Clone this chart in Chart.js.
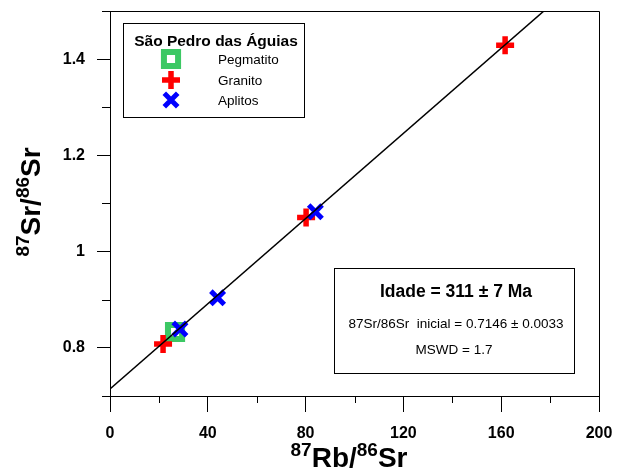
<!DOCTYPE html>
<html>
<head>
<meta charset="utf-8">
<script src="https://cdn.jsdelivr.net/npm/chart.js@4.4.0/dist/chart.umd.min.js"></script>
<style>
  html, body { margin: 0; padding: 0; background: #fff; }
  #wrap { width: 617px; height: 468px; }
</style>
</head>
<body>
<div id="wrap"><canvas id="isochron" width="617" height="468"></canvas></div>
<script>
// ============================================
// DATA
// ============================================
const pegmatitoX = [26.6];
const pegmatitoY = [0.833];

const granitoX = [21.7, 80.2, 161.6];
const granitoY = [0.808, 1.071, 1.429];

const aplitosX = [28.6, 44.0, 84.0];
const aplitosY = [0.839, 0.904, 1.083];

// isochron line end points
const isoX = [0, 200];
const isoY = [0.7146, 1.5998];

// labelled ticks
const xTickLabels = [0, 40, 80, 120, 160, 200];
const yTickLabels = [0.8, 1, 1.2, 1.4];

const legendTitle = 'São Pedro das Águias';
const infoLines = ['Idade = 311 ± 7 Ma', '87Sr/86Sr  inicial = 0.7146 ± 0.0033', 'MSWD = 1.7'];

const FONT = "'Liberation Sans', Arial, Helvetica, sans-serif";
const colors = {
    green: '#3CC864',
    red: '#FF0000',
    blue: '#0000FF',
    black: '#000000',
};

function toPoints(xs, ys) {
    return xs.map((x, i) => ({ x: x, y: ys[i] }));
}

function isLabelled(list, v) {
    return list.some((t) => Math.abs(t - v) < 1e-6);
}

// series (legend order)
const series = [
    { label: 'Pegmatito', xs: pegmatitoX, ys: pegmatitoY, style: 'rect', radius: 10, border: 6, color: colors.green, fill: '#FFFFFF', order: 3 },
    { label: 'Granito', xs: granitoX, ys: granitoY, style: 'cross', radius: 9, border: 5.5, color: colors.red, fill: colors.red, order: 2 },
    { label: 'Aplitos', xs: aplitosX, ys: aplitosY, style: 'crossRot', radius: 9.5, border: 5, color: colors.blue, fill: colors.blue, order: 1 },
];

// ============================================
// HELPERS
// ============================================
function drawMarker(ctx, s, x, y) {
    ctx.save();
    ctx.strokeStyle = s.color;
    ctx.fillStyle = s.fill;
    ctx.lineWidth = s.border;
    if (window.Chart && Chart.helpers && Chart.helpers.drawPoint) {
        Chart.helpers.drawPoint(ctx, { pointStyle: s.style, radius: s.radius, borderWidth: s.border, rotation: 0 }, x, y);
    }
    ctx.restore();
}

// text with superscript parts, centred on cx
function drawRich(ctx, parts, cx, baseline, mainFont, supFont, raise) {
    let w = 0;
    parts.forEach((p) => {
        ctx.font = p.sup ? supFont : mainFont;
        w += ctx.measureText(p.t).width;
    });
    let x = cx - w / 2;
    ctx.textAlign = 'left';
    ctx.textBaseline = 'alphabetic';
    parts.forEach((p) => {
        ctx.font = p.sup ? supFont : mainFont;
        ctx.fillText(p.t, x, baseline - (p.sup ? raise : 0));
        x += ctx.measureText(p.t).width;
    });
}

// ============================================
// PLUGIN: frame, minor ticks, axis titles, boxes
// ============================================
const extrasPlugin = {
    id: 'extras',
    afterDraw(chart) {
        const { ctx, chartArea: a, scales } = chart;
        ctx.save();
        ctx.strokeStyle = colors.black;
        ctx.lineWidth = 1;

        // top and right frame
        ctx.beginPath();
        ctx.moveTo(a.left, Math.round(a.top) + 0.5);
        ctx.lineTo(Math.round(a.right) + 0.5, Math.round(a.top) + 0.5);
        ctx.lineTo(Math.round(a.right) + 0.5, a.bottom);
        ctx.stroke();

        // minor ticks
        ctx.beginPath();
        scales.x.ticks.forEach((t) => {
            if (isLabelled(xTickLabels, t.value)) return;
            const px = Math.round(scales.x.getPixelForValue(t.value)) + 0.5;
            ctx.moveTo(px, a.bottom);
            ctx.lineTo(px, a.bottom + 7);
        });
        scales.y.ticks.forEach((t) => {
            if (isLabelled(yTickLabels, t.value)) return;
            const py = Math.round(scales.y.getPixelForValue(t.value)) + 0.5;
            ctx.moveTo(a.left - 8, py);
            ctx.lineTo(a.left, py);
        });
        ctx.stroke();

        ctx.fillStyle = colors.black;

        // x title
        drawRich(ctx, [
            { t: '87', sup: true }, { t: 'Rb/', sup: false },
            { t: '86', sup: true }, { t: 'Sr', sup: false },
        ], 349, 467, 'bold 28px ' + FONT, 'bold 19px ' + FONT, 11);

        // y title
        ctx.save();
        ctx.translate(40, 202);
        ctx.rotate(-Math.PI / 2);
        drawRich(ctx, [
            { t: '87', sup: true }, { t: 'Sr/', sup: false },
            { t: '86', sup: true }, { t: 'Sr', sup: false },
        ], 0, 0, 'bold 28px ' + FONT, 'bold 19px ' + FONT, 11);
        ctx.restore();

        // legend box
        ctx.strokeRect(123.5, 23.5, 181, 94);
        ctx.font = 'bold 15.5px ' + FONT;
        ctx.textAlign = 'center';
        ctx.textBaseline = 'alphabetic';
        ctx.fillText(legendTitle, 216, 45.5);
        const rowY = [59, 80, 100];
        const rowBase = [64, 85, 104.5];
        series.forEach((s, i) => {
            drawMarker(ctx, s, 171, rowY[i]);
            ctx.fillStyle = colors.black;
            ctx.font = '13.5px ' + FONT;
            ctx.textAlign = 'left';
            ctx.fillText(s.label, 218, rowBase[i]);
        });

        // info box
        ctx.strokeStyle = colors.black;
        ctx.lineWidth = 1;
        ctx.strokeRect(334.5, 268.5, 240, 105);
        ctx.textAlign = 'center';
        ctx.font = 'bold 17.5px ' + FONT;
        ctx.fillText(infoLines[0], 456, 297);
        ctx.font = '13.5px ' + FONT;
        ctx.fillText(infoLines[1], 456, 328);
        ctx.fillText(infoLines[2], 454, 354);

        ctx.restore();
    },
};

// ============================================
// CHART
// ============================================
Chart.defaults.font.family = FONT;
Chart.defaults.color = colors.black;

const datasets = [
    {
        type: 'line',
        label: 'Isócrona',
        data: toPoints(isoX, isoY),
        borderColor: colors.black,
        borderWidth: 1.5,
        pointRadius: 0,
        fill: false,
        order: 0,
    },
].concat(series.map((s) => ({
    type: 'scatter',
    label: s.label,
    data: toPoints(s.xs, s.ys),
    pointStyle: s.style,
    pointRadius: s.radius,
    pointHoverRadius: s.radius,
    pointBorderWidth: s.border,
    pointHoverBorderWidth: s.border,
    pointBorderColor: s.color,
    pointBackgroundColor: s.fill,
    order: s.order,
})));

new Chart(document.getElementById('isochron'), {
    type: 'scatter',
    data: { datasets: datasets },
    plugins: [extrasPlugin],
    options: {
        responsive: false,
        animation: false,
        events: [],
        layout: {
            autoPadding: false,
            padding: { left: 0, right: 18, top: 11, bottom: 0 },
        },
        plugins: {
            legend: { display: false },
            tooltip: { enabled: false },
        },
        scales: {
            x: {
                type: 'linear',
                min: 0,
                max: 200,
                ticks: {
                    stepSize: 20,
                    padding: 12,
                    maxRotation: 0,
                    autoSkip: false,
                    color: colors.black,
                    font: { size: 16, weight: 'bold' },
                    callback: (v) => (isLabelled(xTickLabels, v) ? String(v) : ''),
                },
                grid: {
                    drawOnChartArea: false,
                    tickLength: 16,
                    tickColor: (c) => (c.tick && isLabelled(xTickLabels, c.tick.value) ? colors.black : 'rgba(0,0,0,0)'),
                },
                border: { color: colors.black, width: 1 },
                afterFit: (s) => {
                    s.height = 72;
                    s.paddingLeft = 0;
                    s.paddingRight = 0;
                },
            },
            y: {
                type: 'linear',
                min: 0.7,
                max: 1.5,
                ticks: {
                    stepSize: 0.1,
                    padding: 12,
                    autoSkip: false,
                    color: colors.black,
                    font: { size: 16, weight: 'bold' },
                    callback: (v) => (isLabelled(yTickLabels, v) ? String(+v.toFixed(1)) : ''),
                },
                grid: {
                    drawOnChartArea: false,
                    tickLength: 13,
                    tickColor: (c) => (c.tick && isLabelled(yTickLabels, c.tick.value) ? colors.black : 'rgba(0,0,0,0)'),
                },
                border: { color: colors.black, width: 1 },
                afterFit: (s) => {
                    s.width = 110;
                    s.paddingTop = 0;
                    s.paddingBottom = 0;
                },
            },
        },
    },
});
</script>
</body>
</html>
